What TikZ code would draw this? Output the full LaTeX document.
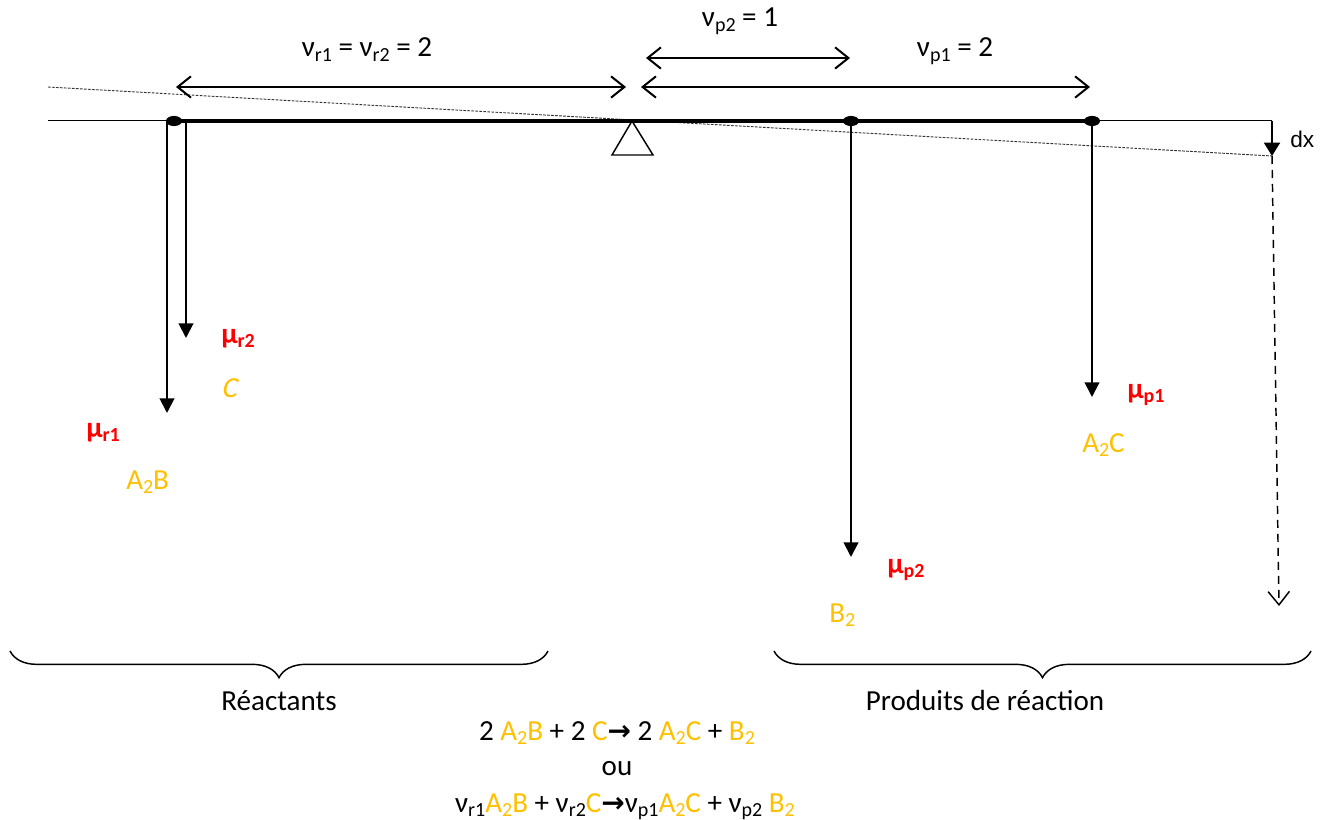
\documentclass[tikz,border=0pt]{standalone}
\usepackage{fontspec}
\setmainfont{Carlito}
\newfontfamily\penche{Carlito}[FakeSlant=0.2]
\newfontfamily\arial{Liberation Sans}
\newfontfamily\symb{DejaVu Sans}
\usetikzlibrary{arrows.meta,decorations.pathreplacing}
\definecolor{jaune}{RGB}{255,192,0}
\definecolor{rouge}{RGB}{255,0,0}
\newcommand{\ind}[1]{\raisebox{-0.3ex}{\fontsize{15}{15}\selectfont #1}}
\newcommand{\nur}[1]{ν\ind{r#1}}
\newcommand{\nup}[1]{ν\ind{p#1}}
\newcommand{\mul}[1]{\textcolor{rouge}{\bfseries μ\ind{#1}}}
\newcommand{\jn}[1]{\textcolor{jaune}{#1}}
\newcommand{\fleche}{{\symb\bfseries\fontsize{21}{21}\selectfont →}}
\begin{document}
\begin{tikzpicture}[x=0.75pt,y=-0.75pt,
	every node/.style={inner sep=0pt,font=\fontsize{21.8}{26}\selectfont},
	poids/.style={-{Triangle[length=11pt,width=11pt]},line width=1.5pt},
	cote/.style={{Straight Barb[length=10pt,width=16pt]}-{Straight Barb[length=10pt,width=16pt]},line width=1.5pt},
	accolade/.style={decorate,decoration={brace,mirror,amplitude=20pt},line width=1.1pt}]
	\useasboundingbox (0,0) rectangle (1327,820);
	\coordinate (g) at (48,121);
	\coordinate (d) at (1272,121);
	\coordinate (r) at (174,121);
	\coordinate (p2) at (851,121);
	\coordinate (p1) at (1092,121);
	\coordinate (f) at (632,121);
	\draw[line width=0.75pt] (g) -- (d);
	\draw[dash pattern=on 2pt off 1pt,line width=0.7pt,black!80] (48,87) coordinate (o1) -- (1272,156) coordinate (o2);
	\draw[line width=1.1pt] (f) -- (612,155) -- (653,155) -- cycle;
	\draw[line width=3pt] (r) -- (p1);
	\foreach \c in {r,p2,p1}
	\fill (\c) ellipse [x radius=6pt,y radius=3.8pt];
	% bras de levier
	\draw[cote] (176,87) coordinate (c1a) -- (626,87) coordinate (c1b);
	\draw[cote] (646,58) coordinate (c2a) -- (850,58) coordinate (c2b);
	\draw[cote] (641,87) coordinate (c3a) -- (1090,87) coordinate (c3b);
	\node[anchor=base] (n1) at (367,57) {\nur1 = \nur2 = 2};
	\node[anchor=base] (n2) at (740,27) {\nup2 = 1};
	\node[anchor=base] (n3) at (955,57) {\nup1 = 2};
	% potentiels chimiques
	\draw[poids] (167,121) coordinate (r1h) -- (167,413) coordinate (r1);
	\draw[poids] (186,121) coordinate (r2h) -- (186,338) coordinate (r2);
	\draw[poids] (p2) -- (851,557) coordinate (q2);
	\draw[poids] (p1) -- (1092,397) coordinate (q1);
	\draw[-{Triangle[length=10pt,width=12pt]},line width=1.5pt] (d) -- (o2);
	\draw[-{Straight Barb[length=10pt,width=16pt]},line width=1.1pt,dash pattern=on 6pt off 4.5pt] (o2) -- (1279,606) coordinate (o3);
	\node[anchor=base west,font=\arial\fontsize{17}{20}\selectfont] (dx) at (1290,147) {dx};
	\node[anchor=base west] (m2) at (221,343) {\mul{r2}};
	\node[anchor=base west] (s2) at (221,397) {\jn{\penche C}};
	\node[anchor=base west] (m1) at (86,437) {\mul{r1}};
	\node[anchor=base west] (s1) at (126,489) {\jn{A\ind{2}B}};
	\node[anchor=base west] (m4) at (887,573) {\mul{p2}};
	\node[anchor=base west] (s4) at (829,622) {\jn{B\ind{2}}};
	\node[anchor=base west] (m3) at (1127,398) {\mul{p1}};
	\node[anchor=base west] (s3) at (1082,452) {\jn{A\ind{2}C}};
	% accolades
	\draw[accolade] (10,651) -- (548,651);
	\draw[accolade] (774,651) -- (1311,651);
	\node[anchor=base] (reac) at (279,710) {Réactants};
	\node[anchor=base] (prod) at (985,710) {Produits de réaction};
	\node[anchor=base] (eq1) at (617,740) {2 \jn{A\ind{2}B} + 2 \jn{C}\fleche\ 2 \jn{A\ind{2}C} + \jn{B\ind{2}}};
	\node[anchor=base] (ou) at (617,775) {ou};
	\node[anchor=base] (eq2) at (625,812) {\nur1\jn{A\ind{2}B} + \nur2\jn{C}\fleche\nup1\jn{A\ind{2}C} + \nup2\ \jn{B\ind{2}}};
\end{tikzpicture}
\end{document}
